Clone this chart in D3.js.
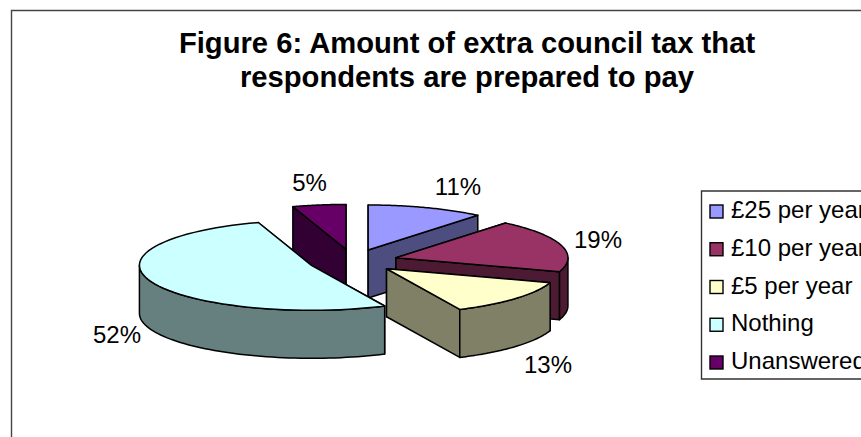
<!DOCTYPE html>
<html>
<head>
<meta charset="utf-8">
<script src="https://cdn.jsdelivr.net/npm/d3@7/dist/d3.min.js"></script>
<style>
html,body{margin:0;padding:0;background:#fff;overflow:hidden}
svg{display:block}
text{font-family:"Liberation Sans",Arial,sans-serif;fill:#000}
</style>
</head>
<body>
<svg id="chart" width="861" height="437"></svg>
<script>
// Survey shares, in percent
const categories = ["£25 per year", "£10 per year", "£5 per year", "Nothing", "Unanswered"];
const values = [11, 19, 13, 52, 5];
const colours = ["#9999FF", "#993366", "#FFFFCC", "#CCFFFF", "#660066"];
const titleLines = ["Figure 6: Amount of extra council tax that", "respondents are prepared to pay"];

const svg = d3.select("#chart");

// Tilted pie layout
const W = 861, H = 437;
const cx = 353, cy = 261, rx = 172, ry = 45, depth = 48, explode = 0.26;
const pie = d3.pie().sort(null).value(d => d)(values);

const px = d3.scaleLinear().domain([-1, 1]).range([-rx, rx]);
const py = d3.scaleLinear().domain([-1, 1]).range([-ry, ry]);
const line = d3.line();

// Project a unit-circle point at a clockwise-from-north angle
const onRim = (c, a, drop = 0) => [c[0] + px(Math.sin(a)), c[1] - py(Math.cos(a)) + drop];
const rim = (c, a0, a1, drop = 0) => d3.range(0, 61).map(i => onRim(c, a0 + (a1 - a0) * i / 60, drop));

function dark(hex) {
  const c = d3.rgb(hex);
  return d3.rgb(c.r / 2, c.g / 2, c.b / 2).formatHex();
}

// Outer frame, running past the right and bottom of the canvas
svg.append("path")
  .attr("d", `M${W + 5},10.5H11.5V${H + 5}`)
  .attr("fill", "none").attr("stroke", "#444").attr("stroke-width", 1.4);

// Title
svg.append("g").selectAll("text").data(titleLines).join("text")
  .attr("x", 467).attr("y", (d, i) => 53 + i * 34)
  .attr("text-anchor", "middle")
  .attr("font-size", 29.2).attr("font-weight", "bold")
  .text(d => d);

// Slices, painted back to front
const order = [4, 0, 1, 2, 3];
const g = svg.append("g").attr("stroke", "#000").attr("stroke-width", 1.5).attr("stroke-linejoin", "round");
order.forEach(i => {
  const s = pie[i], mid = (s.startAngle + s.endAngle) / 2;
  const c = [cx + explode * px(Math.sin(mid)), cy - explode * py(Math.cos(mid))];
  const side = dark(colours[i]);
  [s.startAngle, s.endAngle].forEach(a => {
    const e = onRim(c, a), e2 = onRim(c, a, depth);
    g.append("path").attr("fill", side)
      .attr("d", line([c, e, e2, [c[0], c[1] + depth]]) + "Z");
  });
  const w0 = Math.max(s.startAngle, Math.PI / 2), w1 = Math.min(s.endAngle, 3 * Math.PI / 2);
  if (w1 > w0) {
    g.append("path").attr("fill", side)
      .attr("d", line(rim(c, w0, w1).concat(rim(c, w1, w0, depth))) + "Z");
  }
  g.append("path").attr("fill", colours[i])
    .attr("d", line([c].concat(rim(c, s.startAngle, s.endAngle))) + "Z");
});

// Percentage labels beside each slice
const labelPos = [[458, 195], [598, 248], [548, 373], [117, 343], [309.5, 191]];
svg.append("g").selectAll("text").data(values).join("text")
  .attr("x", (d, i) => labelPos[i][0]).attr("y", (d, i) => labelPos[i][1])
  .attr("text-anchor", "middle").attr("font-size", 24)
  .text(d => d + "%");

// Legend
const legendY = d3.scalePoint().domain(categories).range([211.5, 362.5]);
const legend = svg.append("g");
legend.append("path").attr("d", `M${W + 5},191H701.5V379H${W + 5}`)
  .attr("fill", "#fff").attr("stroke", "#333").attr("stroke-width", 1.4);
const rows = legend.selectAll("g").data(categories).join("g")
  .attr("transform", d => `translate(0,${legendY(d)})`);
rows.append("rect").attr("x", 710).attr("y", -6.5).attr("width", 13).attr("height", 13)
  .attr("fill", (d, i) => colours[i]).attr("stroke", "#000").attr("stroke-width", 1.4);
rows.append("text").attr("x", 731).attr("y", 6.5).attr("font-size", 24).text(d => d);
</script>
</body>
</html>
